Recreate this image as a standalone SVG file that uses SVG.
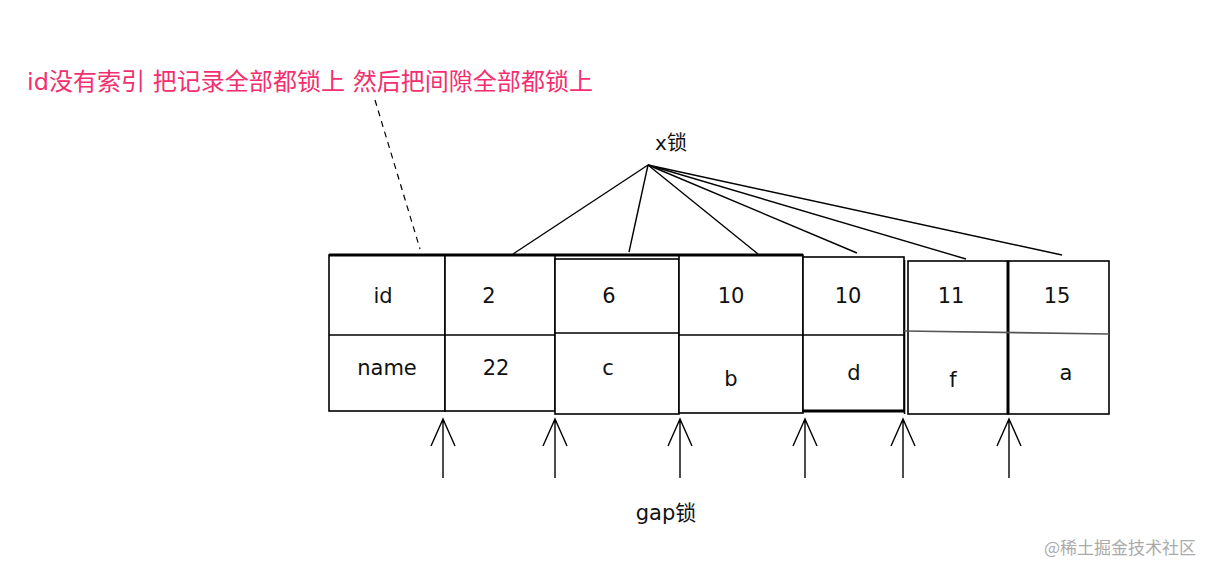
<svg xmlns="http://www.w3.org/2000/svg" width="1218" height="574" viewBox="0 0 1218 574">
<style>
.c{fill:#fff;stroke:#000;stroke-width:1.6}
.l{stroke:#000;stroke-width:1.6;fill:none}
.t{font-family:"DejaVu Sans","Noto Sans CJK SC",sans-serif;font-size:21px;fill:#111;text-anchor:middle}
.a{stroke:#000;stroke-width:1.4;fill:none}
</style>
<rect width="1218" height="574" fill="#fff"/>
<text x="27" y="90" textLength="566" lengthAdjust="spacingAndGlyphs" style="font-family:'DejaVu Sans','Noto Sans CJK SC',sans-serif;font-size:23.5px;fill:#f2306f">id没有索引 把记录全部都锁上 然后把间隙全部都锁上</text>
<g id="connectors">
<line x1="375" y1="100" x2="420" y2="249" stroke="#000" stroke-width="1.2" stroke-dasharray="6,5"/>
<g class="a">
<line x1="648" y1="165" x2="513" y2="254"/>
<line x1="648" y1="165" x2="629" y2="252"/>
<line x1="648" y1="165" x2="758" y2="254"/>
<line x1="648" y1="165" x2="857" y2="253"/>
<line x1="648" y1="165" x2="966" y2="259"/>
<line x1="648" y1="165" x2="1062" y2="255"/>
</g>
<g class="a">
<path d="M443 478V419M431 446L443 419L455 446"/>
<path d="M555 478V419M543 446L555 419L567 446"/>
<path d="M680 478V419M668 446L680 419L692 446"/>
<path d="M805 478V419M793 446L805 419L817 446"/>
<path d="M903 478V419M891 446L903 419L915 446"/>
<path d="M1009 478V419M997 446L1009 419L1021 446"/>
</g>
</g>
<g id="label-x">
<text x="671" y="150" class="t" style="font-size:20px">x锁</text>
</g>
<g id="cell-header">
<rect x="329" y="255" width="116" height="156" class="c"/>
<line x1="329" y1="335" x2="445" y2="335" class="l"/>
<text x="383" y="303" class="t">id</text>
<text x="387" y="375" class="t">name</text>
</g>
<g id="cell-2">
<rect x="445" y="255" width="110" height="156" class="c"/>
<line x1="445" y1="335" x2="555" y2="335" class="l"/>
<text x="489" y="303" class="t">2</text>
<text x="496" y="375" class="t">22</text>
</g>
<g id="cell-6">
<rect x="555" y="259" width="124" height="155" class="c"/>
<line x1="555" y1="333" x2="679" y2="333" class="l"/>
<text x="609" y="303" class="t">6</text>
<text x="608" y="375" class="t">c</text>
</g>
<g id="cell-10b">
<rect x="679" y="255" width="124" height="158" class="c"/>
<line x1="679" y1="335" x2="803" y2="335" class="l"/>
<text x="731" y="303" class="t">10</text>
<text x="731" y="386" class="t">b</text>
</g>
<g id="cell-10d">
<rect x="803" y="257" width="101" height="154" class="c"/>
<line x1="803" y1="335" x2="904" y2="335" class="l"/>
<line x1="803" y1="411" x2="904" y2="411" stroke="#000" stroke-width="3"/>
<text x="848" y="303" class="t">10</text>
<text x="854" y="380" class="t">d</text>
</g>
<line x1="329" y1="255" x2="803" y2="255" stroke="#000" stroke-width="3"/>
<g id="cell-11">
<line x1="904.5" y1="260" x2="904.5" y2="414" class="l"/>
<rect x="908" y="261" width="100" height="153" class="c"/>
<text x="951" y="303" class="t">11</text>
<text x="953" y="387" class="t">f</text>
</g>
<g id="cell-15">
<rect x="1008" y="261" width="101" height="153" class="c"/>
<line x1="1008" y1="261" x2="1008" y2="414" stroke="#000" stroke-width="3"/>
<text x="1057" y="303" class="t">15</text>
<text x="1066" y="380" class="t">a</text>
</g>
<line x1="904" y1="331" x2="1109" y2="334" stroke="#555" stroke-width="1.6"/>
<g id="label-gap">
<text x="666" y="520" class="t" style="font-size:21px">gap锁</text>
</g>
<text x="1120" y="554" style="font-family:'Noto Sans CJK SC',sans-serif;font-size:17px;fill:#aaa;text-anchor:middle">@稀土掘金技术社区</text>
</svg>
